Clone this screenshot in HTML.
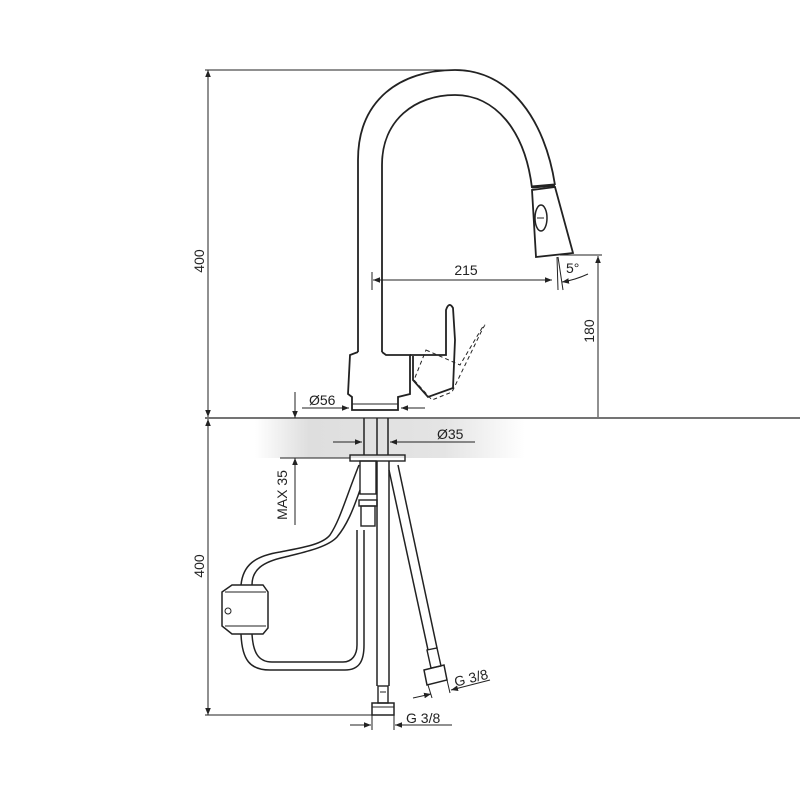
<!DOCTYPE html>
<html><head><meta charset="utf-8"><style>
html,body{margin:0;padding:0;background:#fff}
svg{display:block}
text{font-family:"Liberation Sans",sans-serif;font-size:14px;fill:#222}
</style></head><body>
<svg width="800" height="800" viewBox="0 0 800 800" xmlns="http://www.w3.org/2000/svg">
<defs>
<linearGradient id="g" x1="0" x2="1" y1="0" y2="0">
<stop offset="0" stop-color="#fff"/><stop offset="0.2" stop-color="#dedede"/><stop offset="0.7" stop-color="#e4e4e4"/><stop offset="1" stop-color="#fff"/>
</linearGradient>
<marker id="a" viewBox="0 0 10 10" refX="10" refY="5" markerWidth="7" markerHeight="7" orient="auto-start-reverse"><path d="M0,1 L10,5 L0,9 Z" fill="#222"/></marker>
</defs>
<rect x="255" y="419" width="270" height="39" fill="url(#g)"/>
<g fill="none" stroke="#222" stroke-width="1">
<line x1="205" y1="418" x2="800" y2="418" stroke-width="1.3"/>
<line x1="280" y1="458" x2="350" y2="458"/>
<line x1="205" y1="70" x2="455" y2="70"/>
<line x1="208" y1="70" x2="208" y2="417" marker-start="url(#a)" marker-end="url(#a)"/>
<line x1="208" y1="419" x2="208" y2="715" marker-start="url(#a)" marker-end="url(#a)"/>
<line x1="205" y1="715" x2="380" y2="715"/>
<line x1="295" y1="392" x2="295" y2="418" marker-end="url(#a)"/>
<line x1="295" y1="458" x2="295" y2="525" marker-start="url(#a)"/>
<line x1="560" y1="255" x2="602" y2="255"/>
<line x1="598" y1="256" x2="598" y2="417" marker-start="url(#a)"/>
<line x1="372" y1="272" x2="372" y2="290"/>
<line x1="373" y1="280" x2="552" y2="280" marker-start="url(#a)" marker-end="url(#a)"/>
<line x1="557" y1="257" x2="558" y2="290"/>
<line x1="558" y1="257" x2="563" y2="290"/>
<path d="M562,282 Q575,280 588,274" marker-start="url(#a)"/>
<path d="M358,352 L358,160 C358,100 400,70 455,70 C510,70 545,120 555,185" stroke-width="1.8"/>
<path d="M382,352 L382,165 C382,120 415,95 455,95 C495,95 525,130 532,188" stroke-width="1.8"/>
<line x1="532" y1="187" x2="555" y2="185" stroke-width="3"/>
<path d="M532,190 L555,187 L573,253 L536,257 Z" stroke-width="1.8"/>
<ellipse cx="541" cy="218" rx="6" ry="13" stroke-width="1.5"/>
<line x1="537" y1="218" x2="544" y2="218"/>
<path d="M358,352 L350,355 L348,394 L352,397 L352,410 L398,410 L398,397 L410,394 L410,355 L386,355 L382,352" stroke-width="1.8"/>
<line x1="352" y1="404" x2="398" y2="404"/>
<path d="M410,355 L446,355 L446,310 Q449,301 453,308 L455,340 L453,388 L428,397 L413,380 L413,356" stroke-width="1.8"/>
<path d="M426,350 L460,365 L482,328 Q487,322 483,328 L452,392 L432,400 L414,380 Z" stroke-dasharray="4,3"/>
<line x1="302" y1="408" x2="349" y2="408" marker-end="url(#a)"/>
<line x1="401" y1="408" x2="425" y2="408" marker-start="url(#a)"/>
<line x1="364" y1="418" x2="364" y2="455" stroke-width="1.5"/>
<line x1="377" y1="418" x2="377" y2="455" stroke-width="1.5"/>
<line x1="388" y1="418" x2="388" y2="455" stroke-width="1.5"/>
<line x1="333" y1="442" x2="362" y2="442" marker-end="url(#a)"/>
<line x1="390" y1="442" x2="475" y2="442" marker-start="url(#a)"/>
<rect x="350" y="455" width="55" height="6" stroke-width="1.4"/>
<rect x="360" y="461" width="16" height="33" stroke-width="1.4"/>
<rect x="359" y="500" width="18" height="6" stroke-width="1.4"/>
<rect x="361" y="506" width="14" height="20" stroke-width="1.4"/>
<path d="M359,465 C345,500 340,520 330,535 C322,545 300,548 280,552 C255,556 243,565 241,585" stroke-width="1.5"/>
<path d="M360,490 C353,510 347,525 337,537 C327,548 300,553 285,557 C262,562 252,570 252,585" stroke-width="1.5"/>
<path d="M241,634 C242,660 250,670 270,670 L345,670 C360,670 364,660 364,645 L364,530" stroke-width="1.5"/>
<path d="M252,634 C253,652 258,662 272,662 L343,662 C352,662 357,655 357,645 L357,530" stroke-width="1.5"/>
<path d="M232,585 L263,585 L268,592 L268,628 L263,634 L232,634 L222,626 L222,592 Z" stroke-width="1.5"/>
<line x1="225" y1="592" x2="266" y2="592"/>
<line x1="225" y1="626" x2="266" y2="626"/>
<circle cx="228" cy="611" r="3"/>
<line x1="377" y1="461" x2="377" y2="686" stroke-width="1.5"/>
<line x1="389" y1="461" x2="389" y2="686" stroke-width="1.5"/>
<rect x="378" y="686" width="10" height="17" stroke-width="1.4"/>
<line x1="380" y1="692" x2="386" y2="692"/>
<rect x="372" y="703" width="22" height="12" stroke-width="1.5"/>
<line x1="372" y1="707" x2="394" y2="707"/>
<line x1="389" y1="470" x2="428" y2="650" stroke-width="1.5"/>
<line x1="398" y1="465" x2="437" y2="648" stroke-width="1.5"/>
<path d="M427,650 L437,648 L441,666 L431,668 Z" stroke-width="1.4"/>
<path d="M424,670 L444,665 L447,680 L427,685 Z" stroke-width="1.5"/>
<line x1="372" y1="715" x2="372" y2="730"/>
<line x1="394" y1="715" x2="394" y2="730"/>
<line x1="350" y1="725" x2="371" y2="725" marker-end="url(#a)"/>
<line x1="395" y1="725" x2="452" y2="725" marker-start="url(#a)"/>
<line x1="428" y1="685" x2="432" y2="698"/>
<line x1="447" y1="680" x2="450" y2="693"/>
<line x1="413" y1="698" x2="431" y2="694" marker-end="url(#a)"/>
<line x1="451" y1="690" x2="490" y2="680" marker-start="url(#a)"/>
</g>
<text x="188" y="245" transform="rotate(-90 204 245)" text-anchor="middle">400</text>
<text x="188" y="550" transform="rotate(-90 204 550)" text-anchor="middle">400</text>
<text x="600" y="337" transform="rotate(-90 594 337)" text-anchor="middle">180</text>
<text x="292" y="500" transform="rotate(-90 287 500)" text-anchor="middle">MAX 35</text>
<text x="466" y="275" text-anchor="middle">215</text>
<text x="566" y="273">5°</text>
<text x="309" y="405">Ø56</text>
<text x="437" y="439">Ø35</text>
<text x="406" y="723">G 3/8</text>
<text x="454" y="683" transform="rotate(-14 470 678)">G 3/8</text>
</svg>
</body></html>
